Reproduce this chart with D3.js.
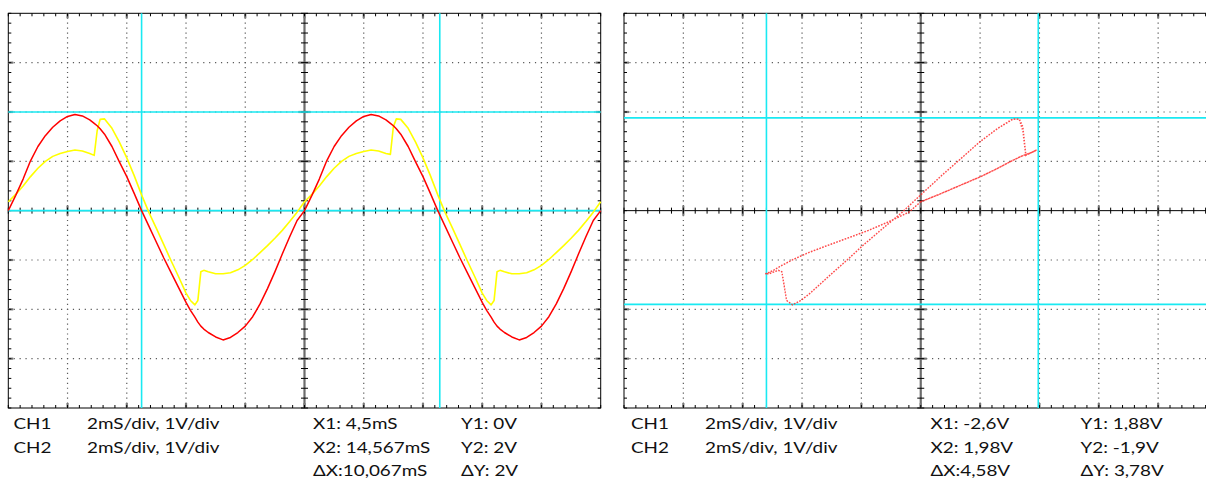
<!DOCTYPE html>
<html>
<head>
<meta charset="utf-8">
<script src="https://cdn.jsdelivr.net/npm/d3@7"></script>
<style>
  html, body { margin: 0; padding: 0; background: #fff; overflow: hidden; }
  svg { display: block; }
</style>
</head>
<body>
<svg id="scope" width="1206" height="483"></svg>
<script>
// Sample times (ms) across two periods of the sweep
const timeMs = [
  0, 0.25, 0.5, 0.75, 1, 1.25, 1.5, 1.75, 2, 2.25, 2.5, 2.75, 2.9, 3, 3.1, 3.25, 3.5, 3.75, 4, 4.25,
  4.5, 4.75, 5, 5.25, 5.5, 5.75, 6, 6.15, 6.3, 6.4, 6.5, 6.6, 6.75, 7, 7.25, 7.5, 7.75, 8, 8.25, 8.5,
  8.75, 9, 9.25, 9.5, 9.75,
  10, 10.25, 10.5, 10.75, 11, 11.25, 11.5, 11.75, 12, 12.25, 12.5, 12.75, 12.9, 13, 13.1, 13.25, 13.5, 13.75, 14, 14.25,
  14.5, 14.75, 15, 15.25, 15.5, 15.75, 16, 16.15, 16.3, 16.4, 16.5, 16.6, 16.75, 17, 17.25, 17.5, 17.75, 18, 18.25, 18.5,
  18.75, 19, 19.25, 19.5, 19.75, 20
];

// CH1 (red) in volts
const ch1Volts = [
  0, 0.31, 0.64, 1.01, 1.30, 1.52, 1.69, 1.82, 1.91, 1.95, 1.92, 1.84, 1.77, 1.72, 1.66, 1.55, 1.30, 0.99, 0.69, 0.35,
  0, -0.32, -0.64, -0.96, -1.26, -1.56, -1.86, -2.02, -2.16, -2.26, -2.34, -2.40, -2.47, -2.56, -2.62, -2.57, -2.47, -2.34, -2.15, -1.89,
  -1.58, -1.24, -0.88, -0.53, -0.20,
  0, 0.31, 0.64, 1.01, 1.30, 1.52, 1.69, 1.82, 1.91, 1.95, 1.92, 1.84, 1.77, 1.72, 1.66, 1.55, 1.30, 0.99, 0.69, 0.35,
  0, -0.32, -0.64, -0.96, -1.26, -1.56, -1.86, -2.02, -2.16, -2.26, -2.34, -2.40, -2.47, -2.56, -2.62, -2.57, -2.47, -2.34, -2.15, -1.89,
  -1.58, -1.24, -0.88, -0.53, -0.20, 0
];

// CH2 (yellow) in volts
const ch2Volts = [
  0.18, 0.33, 0.50, 0.69, 0.86, 1.00, 1.10, 1.16, 1.20, 1.23, 1.21, 1.16, 1.12, 1.62, 1.85, 1.86, 1.67, 1.39, 1.07, 0.71,
  0.32, -0.04, -0.36, -0.69, -1.02, -1.34, -1.67, -1.82, -1.91, -1.82, -1.24, -1.21, -1.24, -1.28, -1.28, -1.26, -1.20, -1.11, -0.99, -0.85,
  -0.71, -0.56, -0.40, -0.22, -0.03,
  0.18, 0.33, 0.50, 0.69, 0.86, 1.00, 1.10, 1.16, 1.20, 1.23, 1.21, 1.16, 1.14, 1.70, 1.86, 1.85, 1.67, 1.39, 1.07, 0.71,
  0.32, -0.04, -0.36, -0.69, -1.02, -1.34, -1.67, -1.82, -1.91, -1.82, -1.24, -1.21, -1.24, -1.28, -1.28, -1.26, -1.20, -1.11, -0.99, -0.85,
  -0.71, -0.56, -0.40, -0.22, -0.03, 0.18
];

// Cursor positions
const timeCursorX = [4.5, 14.567];   // ms
const timeCursorY = [0, 2];          // V
const xyCursorX = [-2.6, 1.98];      // V
const xyCursorY = [1.88, -1.9];      // V

// Channel read-out
const channelNames = ["CH1", "CH2"];
const channelScales = ["2mS/div, 1V/div", "2mS/div, 1V/div"];

const W = 1206, H = 483;
const plotTop = 13.3, plotBottom = 408;

const svg = d3.select("#scope");
svg.append("rect").attr("width", W).attr("height", H).attr("fill", "#fff");

const yVolts = d3.scaleLinear().domain([-4, 4]).range([plotBottom, plotTop]);
const xTime = d3.scaleLinear().domain([0, 20]).range([8.3, 600.7]);
const xVolts = d3.scaleLinear().domain([-5, 5]).range([624, 1217.5]);

const CYAN = "#19e9f2";

function drawScreen(g, x, y, xStep, yStep) {
  const [x0, x1] = x.range();
  const [y0, y1] = y.range();        // y0 = bottom, y1 = top
  const xd = x.domain(), yd = y.domain();
  const eps = 1e-9;
  const xMaj = d3.range(xd[0], xd[1] + eps, xStep);
  const yMaj = d3.range(yd[0], yd[1] + eps, yStep);
  const xMin = d3.range(xd[0], xd[1] + eps, xStep / 5);
  const yMin = d3.range(yd[0], yd[1] + eps, yStep / 5);
  const xMid = (xd[0] + xd[1]) / 2, yMid = (yd[0] + yd[1]) / 2;
  const near = (a, b) => Math.abs(a - b) < 1e-6;
  const dx = Math.abs(x(xStep) - x(0)), dy = Math.abs(y(yStep) - y(0));
  const xInner = xMaj.filter(v => !near(v, xd[0]) && !near(v, xd[1]) && !near(v, xMid));
  const yInner = yMaj.filter(v => !near(v, yd[0]) && !near(v, yd[1]) && !near(v, yMid));

  // dotted graticule, ten dots per division
  const grid = g.append("g").attr("stroke", "#5a5a5a").attr("stroke-width", 1.2);
  grid.selectAll(".gv").data(xInner).join("line")
    .attr("x1", d => x(d)).attr("x2", d => x(d))
    .attr("y1", y1).attr("y2", y0)
    .attr("stroke-dasharray", `1.2 ${dy / 10 - 1.2}`)
    .attr("stroke-dashoffset", 0.6);
  grid.selectAll(".gh").data(yInner).join("line")
    .attr("x1", x0).attr("x2", x1)
    .attr("y1", d => y(d)).attr("y2", d => y(d))
    .attr("stroke-dasharray", `1.2 ${dx / 10 - 1.2}`)
    .attr("stroke-dashoffset", 0.6);

  // centre axes
  g.append("line").attr("x1", x(xMid)).attr("x2", x(xMid)).attr("y1", y1).attr("y2", y0)
    .attr("stroke", "#6c6c6c").attr("stroke-width", 2.2);
  g.append("line").attr("x1", x0).attr("x2", x1).attr("y1", y(yMid)).attr("y2", y(yMid))
    .attr("stroke", "#000").attr("stroke-width", 1);

  // outer frame
  g.append("rect").attr("x", x0).attr("y", y1).attr("width", x1 - x0).attr("height", y0 - y1)
    .attr("fill", "none").attr("stroke", "#000").attr("stroke-width", 1);

  // major division marks on the frame and centre axes
  const major = g.append("g").attr("stroke", "#7a7a7a").attr("stroke-width", 2.2);
  xInner.concat([xMid]).forEach(v => {
    major.append("line").attr("x1", x(v)).attr("x2", x(v)).attr("y1", y1).attr("y2", y1 + 5);
    major.append("line").attr("x1", x(v)).attr("x2", x(v)).attr("y1", y0).attr("y2", y0 - 5);
    major.append("line").attr("x1", x(v)).attr("x2", x(v)).attr("y1", y(yMid) - 5).attr("y2", y(yMid) + 5);
  });
  yInner.forEach(v => {
    major.append("line").attr("x1", x0).attr("x2", x0 + 5).attr("y1", y(v)).attr("y2", y(v));
    major.append("line").attr("x1", x1).attr("x2", x1 - 5).attr("y1", y(v)).attr("y2", y(v));
    major.append("line").attr("x1", x(xMid) - 6).attr("x2", x(xMid) + 6).attr("y1", y(v)).attr("y2", y(v));
  });

  // minor ticks, five per division
  const minor = g.append("g").attr("stroke", "#000").attr("stroke-width", 1);
  xMin.forEach(v => {
    minor.append("line").attr("x1", x(v)).attr("x2", x(v)).attr("y1", y1).attr("y2", y1 + 3);
    minor.append("line").attr("x1", x(v)).attr("x2", x(v)).attr("y1", y0).attr("y2", y0 - 3);
    minor.append("line").attr("x1", x(v)).attr("x2", x(v)).attr("y1", y(yMid) - 3).attr("y2", y(yMid) + 3);
  });
  yMin.forEach(v => {
    minor.append("line").attr("x1", x0).attr("x2", x0 + 3).attr("y1", y(v)).attr("y2", y(v));
    minor.append("line").attr("x1", x1).attr("x2", x1 - 3).attr("y1", y(v)).attr("y2", y(v));
    minor.append("line").attr("x1", x(xMid) - 3.5).attr("x2", x(xMid) + 3.5).attr("y1", y(v)).attr("y2", y(v));
  });
}

function drawCursors(g, x, y, cx, cy) {
  const [x0, x1] = x.range();
  const [y0, y1] = y.range();
  const c = g.append("g").attr("stroke", CYAN).attr("stroke-width", 1.6);
  c.selectAll(".cv").data(cx).join("line")
    .attr("x1", d => x(d)).attr("x2", d => x(d)).attr("y1", y1).attr("y2", y0);
  c.selectAll(".ch").data(cy).join("line")
    .attr("x1", x0).attr("x2", x1).attr("y1", d => y(d)).attr("y2", d => y(d));
}

// ---- time-domain screen ----
const gT = svg.append("g");
drawScreen(gT, xTime, yVolts, 2, 1);
drawCursors(gT, xTime, yVolts, timeCursorX, timeCursorY);

const samples = timeMs.map((t, i) => ({ t, a: ch1Volts[i], b: ch2Volts[i] }));

gT.append("path").datum(samples)
  .attr("fill", "none").attr("stroke", "#ffff00").attr("stroke-width", 1.6)
  .attr("stroke-linejoin", "round")
  .attr("d", d3.line().x(d => xTime(d.t)).y(d => yVolts(d.b)));
gT.append("path").datum(samples)
  .attr("fill", "none").attr("stroke", "#ff0000").attr("stroke-width", 1.5)
  .attr("stroke-linejoin", "round")
  .attr("d", d3.line().x(d => xTime(d.t)).y(d => yVolts(d.a)));

// ---- X-Y screen ----
const gXY = svg.append("g");
drawScreen(gXY, xVolts, yVolts, 1, 1);
drawCursors(gXY, xVolts, yVolts, xyCursorX, xyCursorY);

gXY.append("path").datum(samples)
  .attr("fill", "none").attr("stroke", "#ff2a2a").attr("stroke-width", 1.4)
  .attr("stroke-opacity", 0.85)
  .attr("stroke-dasharray", "1.4 1.6")
  .attr("d", d3.line().x(d => xVolts(d.a)).y(d => yVolts(d.b)));

// ---- read-out text ----
const num = d3.formatLocale({ decimal: ",", thousands: ".", grouping: [3], currency: ["", ""], minus: "-" }).format(".5~r");
const rowY = [429, 452.5, 476];

function readout(xs, rows) {
  const g = svg.append("g").attr("font-family", "Lato, 'Open Sans', sans-serif")
    .attr("font-size", 16).attr("fill", "#111");
  rows.forEach(r => {
    g.append("text")
      .attr("transform", `translate(${xs[r.col]},${rowY[r.row]}) scale(1.18,1)`)
      .text(r.text);
  });
}

const tDX = Math.abs(timeCursorX[1] - timeCursorX[0]);
const tDY = Math.abs(timeCursorY[1] - timeCursorY[0]);
readout([13.5, 87, 313, 461], [
  { col: 0, row: 0, text: channelNames[0] },
  { col: 1, row: 0, text: channelScales[0] },
  { col: 0, row: 1, text: channelNames[1] },
  { col: 1, row: 1, text: channelScales[1] },
  { col: 2, row: 0, text: `X1: ${num(timeCursorX[0])}mS` },
  { col: 2, row: 1, text: `X2: ${num(timeCursorX[1])}mS` },
  { col: 2, row: 2, text: `ΔX:${num(tDX)}mS` },
  { col: 3, row: 0, text: `Y1: ${num(timeCursorY[0])}V` },
  { col: 3, row: 1, text: `Y2: ${num(timeCursorY[1])}V` },
  { col: 3, row: 2, text: `ΔY: ${num(tDY)}V` }
]);

const vDX = Math.abs(xyCursorX[1] - xyCursorX[0]);
const vDY = Math.abs(xyCursorY[1] - xyCursorY[0]);
readout([631, 705, 930.5, 1080.5], [
  { col: 0, row: 0, text: channelNames[0] },
  { col: 1, row: 0, text: channelScales[0] },
  { col: 0, row: 1, text: channelNames[1] },
  { col: 1, row: 1, text: channelScales[1] },
  { col: 2, row: 0, text: `X1: ${num(xyCursorX[0])}V` },
  { col: 2, row: 1, text: `X2: ${num(xyCursorX[1])}V` },
  { col: 2, row: 2, text: `ΔX:${num(vDX)}V` },
  { col: 3, row: 0, text: `Y1: ${num(xyCursorY[0])}V` },
  { col: 3, row: 1, text: `Y2: ${num(xyCursorY[1])}V` },
  { col: 3, row: 2, text: `ΔY: ${num(vDY)}V` }
]);
</script>
</body>
</html>
